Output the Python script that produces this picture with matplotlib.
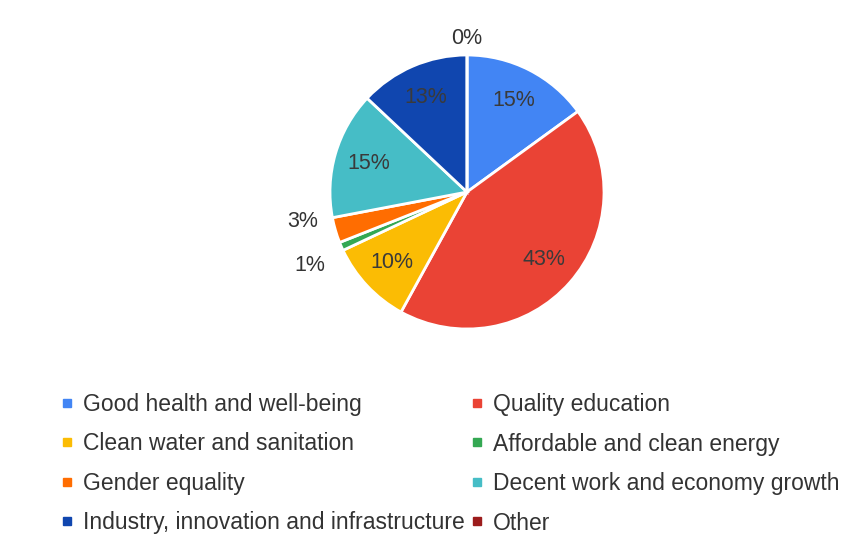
import numpy as np
import matplotlib.pyplot as plt
from matplotlib.lines import Line2D

plt.rcParams['font.family'] = ['Liberation Sans', 'DejaVu Sans']

categories = ['Good health and well-being', 'Quality education',
              'Clean water and sanitation', 'Affordable and clean energy',
              'Gender equality', 'Decent work and economy growth',
              'Industry, innovation and infrastructure', 'Other']
shares = [15, 43, 10, 1, 3, 15, 13, 0]
colors = ['#4285F4', '#EA4335', '#FBBC04', '#34A853',
          '#FF6D01', '#46BDC6', '#1046AF', '#9C1C1C']

fig = plt.figure(figsize=(8.44, 5.49), dpi=100)
W, H = 844, 549
cx, cy, r = 467, 192, 137
ax = fig.add_axes([(cx - r) / W, (H - cy - r) / H, 2 * r / W, 2 * r / H])

wedges, _ = ax.pie(shares, colors=colors, startangle=90, counterclock=False,
                   radius=1, wedgeprops=dict(edgecolor='white', linewidth=2))
ax.set_xlim(-1, 1)
ax.set_ylim(-1, 1)
ax.axis('off')

total = sum(shares)
for w, val in zip(wedges, shares):
    mid = np.deg2rad((w.theta1 + w.theta2) / 2)
    pct = 100 * val / total
    if pct >= 5:
        dist, col = 0.75, '#3a3a3a'
    elif pct == 0:
        dist, col = 1.12, '#333333'
    else:
        dist, col = 1.25, '#333333'
    x, y = dist * np.cos(mid), dist * np.sin(mid)
    # small outside labels pushed apart a little
    if 2 < pct < 5:
        y += 0.13
    elif 0 < pct <= 2:
        y -= 0.04
    ax.text(x, y, f'{pct:.0f}%', ha='center', va='center', fontsize=15.5,
            color=col, clip_on=False)

handles = [Line2D([], [], marker='s', linestyle='', markersize=5.5,
                  markerfacecolor=c, markeredgecolor=c) for c in colors]
order = [0, 2, 4, 6, 1, 3, 5, 7]
fig.legend([handles[i] for i in order], [categories[i] for i in order],
           ncol=2, loc='upper left', bbox_to_anchor=(61 / W, 1 - 393 / H),
           frameon=False, fontsize=16.5, labelcolor='#333333',
           handlelength=0.5, handletextpad=0.45, labelspacing=0.72,
           columnspacing=0.28, borderpad=0, borderaxespad=0)

fig.savefig('out.png', dpi=100)
